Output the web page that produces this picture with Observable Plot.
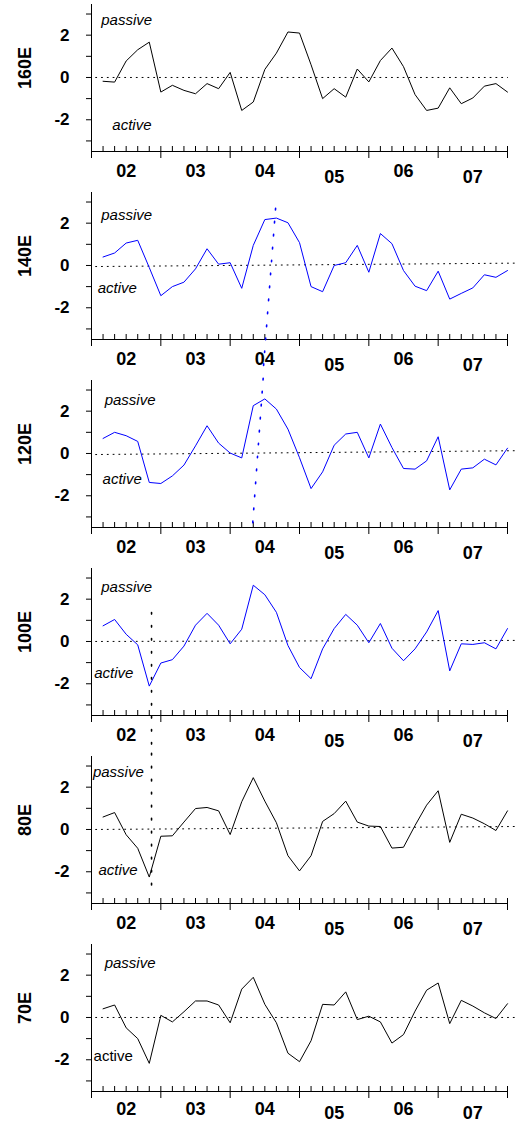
<!DOCTYPE html>
<html><head><meta charset="utf-8">
<script src="https://cdn.jsdelivr.net/npm/d3@7"></script>
<script src="https://cdn.jsdelivr.net/npm/@observablehq/plot@0.6"></script>
<style>
body{margin:0;background:#fff;}
#chart svg{display:block;}
</style></head><body><div id="chart"></div>
<script>
// ---- data ----
const panelNames = ["160E","140E","120E","100E","80E","70E"];
const panelColors = ["black","blue","blue","blue","black","black"];
const v160 = [-0.18,-0.22,0.78,1.31,1.67,-0.69,-0.37,-0.61,-0.77,-0.29,-0.53,0.24,-1.56,-1.16,0.38,1.15,2.15,2.1,0.6,-1.0,-0.53,-0.93,0.40,-0.21,0.8,1.39,0.51,-0.81,-1.56,-1.45,-0.49,-1.24,-0.97,-0.41,-0.29,-0.69];
const v140 = [0.40,0.59,1.06,1.19,-0.1,-1.43,-1.0,-0.79,-0.16,0.79,0.06,0.13,-1.08,0.95,2.17,2.24,2.02,1.08,-1.0,-1.24,0.0,0.13,0.95,-0.32,1.51,1.03,-0.24,-0.98,-1.19,-0.27,-1.59,-1.32,-1.06,-0.44,-0.56,-0.24];
const v120 = [0.71,1.0,0.84,0.57,-1.37,-1.42,-1.06,-0.55,0.36,1.31,0.49,0.02,-0.21,2.26,2.58,2.1,1.15,-0.2,-1.66,-0.87,0.39,0.92,1.0,-0.21,1.39,0.28,-0.71,-0.74,-0.35,0.79,-1.72,-0.74,-0.68,-0.27,-0.54,0.25];
const v100 = [0.74,1.04,0.34,-0.16,-2.11,-1.02,-0.86,-0.22,0.77,1.33,0.77,-0.11,0.58,2.66,2.21,1.38,-0.19,-1.23,-1.76,-0.35,0.61,1.28,0.77,-0.06,0.85,-0.32,-0.91,-0.35,0.45,1.46,-1.39,-0.11,-0.14,-0.06,-0.35,0.61];
const v80 = [0.59,0.8,-0.25,-0.89,-2.25,-0.32,-0.3,0.35,0.99,1.04,0.88,-0.24,1.31,2.45,1.34,0.32,-1.24,-1.96,-1.24,0.38,0.75,1.34,0.35,0.16,0.14,-0.88,-0.84,0.19,1.15,1.83,-0.61,0.72,0.54,0.27,-0.05,0.88];
const v70 = [0.41,0.59,-0.49,-1.0,-2.17,0.1,-0.21,0.27,0.78,0.78,0.59,-0.25,1.34,1.9,0.62,-0.25,-1.69,-2.09,-1.1,0.62,0.59,1.21,-0.1,0.06,-0.21,-1.21,-0.81,0.3,1.29,1.63,-0.29,0.81,0.54,0.22,-0.05,0.65];
const seriesValues = [v160, v140, v120, v100, v80, v70];
// bimonthly sample times (end of each 2-month period), 2002-2007
const times = d3.range(1, 37).map(i => 2002 + i / 6);
const yearStarts = [2002, 2003, 2004, 2005, 2006, 2007, 2008];
const yearLabels = ["02","03","04","05","06","07"];
const yearLabelLow = [false, false, false, true, false, true]; // staggered labels
const yTicks = [-3,-2,-1,0,1,2,3];
const yLabelTicks = [-2, 0, 2];
// annotation anchors [time, value] per panel
const passivePos = [[2002.14,2.46],[2002.14,2.17],[2002.19,2.27],[2002.14,2.36],[2002.02,2.46],[2002.19,2.32]];
const activePos  = [[2002.30,-2.46],[2002.09,-1.28],[2002.16,-1.42],[2002.04,-1.75],[2002.10,-2.17],[2002.03,-2.08]];
const activeItalic = [true,true,true,true,true,false];
// slight tilt of dotted zero reference per panel [left, right]
const zeroLine = [[0,0],[-0.05,0.11],[-0.05,0.13],[0,0.05],[0,0.14],[0,0]];
// phase guide lines (dotted) per panel: [[t1,v1],[t2,v2]], color
const guides = [
  null,
  {pts: [[2004.655, 2.70], [2004.48, -4.82]], color: "blue"},
  {pts: [[2004.476, 3.55], [2004.323, -3.40]], color: "blue"},
  {pts: [[2002.866, 1.37], [2002.866, -5.2]], color: "black"},
  {pts: [[2002.866, 3.6], [2002.866, -2.88]], color: "black"},
  null
];

// ---- layout ----
const yMin = -3.5, yMax = 3.45;
const mTop = 4, plotH = 147;
const ppu = plotH / (yMax - yMin);
const font = "'Liberation Sans', Arial, Helvetica, sans-serif";
const container = document.getElementById("chart");

panelNames.forEach((name, p) => {
  const last = p === panelNames.length - 1;
  const height = last ? 181 : 188;
  const data = times.map((t, i) => ({t, v: seriesValues[p][i]}));
  const zl = zeroLine[p];
  const base = last ? 23 : 25;
  const shift = last ? 4 : 6;
  const yearText = (low, dy) => Plot.text(yearLabels, {
      filter: (d, i) => yearLabelLow[i] === low,
      x: (d, i) => yearStarts[i] + 0.5, y: () => yMin, text: d => d, dy,
      fontSize: 18, fontWeight: "bold", lineAnchor: "bottom"
    });
  const marks = [
    yearText(false, base),
    yearText(true, base + shift),
    // zero reference
    Plot.line([{t: 2002.06, v: zl[0]}, {t: p === 0 ? 2008 : 2008.11, v: zl[1]}],
      {x: "t", y: "v", stroke: "black", strokeWidth: 1, strokeDasharray: "1,4.8"}),
    // axes lines
    Plot.frame({anchor: "left", stroke: "black"}),
    Plot.frame({anchor: "bottom", stroke: "black"}),
    Plot.axisY({ticks: yTicks, tickSize: 5, tickPadding: 17, label: null,
      tickFormat: d => (yLabelTicks.includes(d) ? `${d}` : ""),
      fontSize: 17, fontWeight: "bold", fill: "black"}),
    Plot.axisX({ticks: yearStarts, tickSize: 7, label: null, tickFormat: () => ""}),
    // minor (bimonthly) ticks pointing up
    Plot.ruleX(times, {x: d => d, y1: yMin, y2: yMin + 5 / ppu, stroke: "black"}),
    // series
    Plot.line(data, {x: "t", y: "v", stroke: panelColors[p], strokeWidth: 1}),
    // annotations
    Plot.text(["passive"], {x: passivePos[p][0], y: passivePos[p][1], textAnchor: "start",
      lineAnchor: "bottom", fontSize: 15, fontStyle: "italic"}),
    Plot.text(["active"], {x: activePos[p][0], y: activePos[p][1], textAnchor: "start",
      lineAnchor: "bottom", fontSize: 15, fontStyle: activeItalic[p] ? "italic" : "normal"}),
    // panel label
    Plot.text([name], {frameAnchor: "left", y: 0.45, dx: -66, rotate: -90,
      textAnchor: "middle", fontSize: 18, fontWeight: "bold"})
  ];
  if (guides[p]) {
    const g = guides[p];
    marks.push(Plot.line(g.pts, {x: d => d[0], y: d => d[1], stroke: g.color,
      strokeWidth: 1.6, strokeDasharray: "1.6,11.4"}));
  }
  const chart = Plot.plot({
    width: 517, height,
    marginLeft: 91, marginRight: 10, marginTop: mTop, marginBottom: height - mTop - plotH,
    x: {domain: [2002, 2008]},
    y: {domain: [yMin, yMax]},
    style: {fontFamily: font, background: "white", color: "black", overflow: "visible"},
    marks
  });
  container.appendChild(chart);
});
</script>
</body></html>
